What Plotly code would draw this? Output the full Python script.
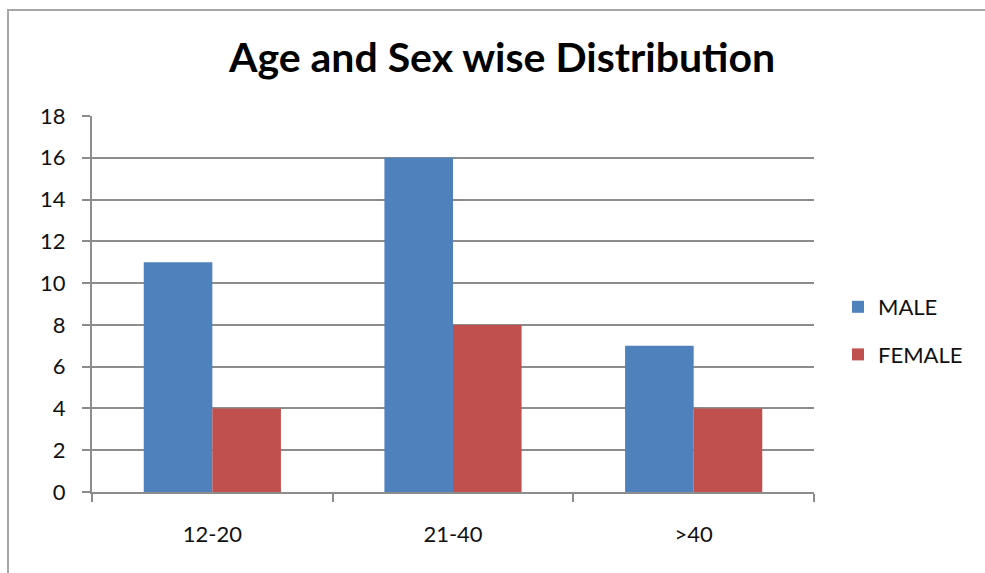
import plotly.graph_objects as go

# Age groups and counts per sex
age_groups = ["12-20", "21-40", ">40"]
male = [11, 16, 7]
female = [4, 8, 4]
y_ticks = list(range(0, 19, 2))

W, H = 985, 573
L, R, T, B = 92, 171, 116, 81
pw, ph = W - L - R, H - T - B

def px_x(p):
    return (p - L) / pw

def px_y(p):
    return (H - B - p) / ph

font = "Lato, 'Open Sans', sans-serif"
grid = "#8c8c8c"
text_col = "#111111"
tick_size = 22

fig = go.Figure()
fig.add_trace(go.Bar(name="MALE", x=age_groups, y=male, marker_color="#4F81BD",
                     marker_line_width=0, legendgroup="m"))
fig.add_trace(go.Bar(name="FEMALE", x=age_groups, y=female, marker_color="#C0504D",
                     marker_line_width=0, legendgroup="f"))

fig.update_layout(
    width=W, height=H,
    margin=dict(l=L, r=R, t=T, b=B),
    paper_bgcolor="white", plot_bgcolor="white",
    barmode="group", bargap=0.43, bargroupgap=0,
    font=dict(family=font, color=text_col, size=tick_size),
    title=dict(text="<b>Age and Sex wise Distribution</b>",
               font=dict(family=font, size=41, color="#000000"),
               x=px_x(502), xref="paper", xanchor="center",
               y=1 - 58 / H, yref="container", yanchor="middle"),
    legend=dict(x=px_x(838), y=px_y(286), xanchor="left", yanchor="top",
                font=dict(size=tick_size, family=font, color=text_col),
                tracegroupgap=16, bgcolor="rgba(0,0,0,0)"),
    showlegend=True,
)

fig.update_xaxes(
    showline=True, linecolor=grid, linewidth=2,
    ticks="outside", tickson="boundaries", ticklen=8, tickcolor=grid, tickwidth=2,
    ticklabelstandoff=22, showgrid=False,
    tickfont=dict(size=tick_size, family=font, color=text_col),
)
fig.update_yaxes(
    range=[0, 18], tickvals=y_ticks,
    showline=True, linecolor=grid, linewidth=2,
    ticks="outside", ticklen=8, tickcolor=grid, tickwidth=2,
    showgrid=True, gridcolor=grid, gridwidth=2, zeroline=False,
    ticklabelstandoff=12,
    tickfont=dict(size=tick_size, family=font, color=text_col),
)

# Chart-area frame (top and left edges visible)
fig.add_shape(type="rect", xref="paper", yref="paper",
              x0=px_x(8), x1=px_x(W + 20), y0=px_y(H + 20), y1=px_y(10),
              line=dict(color="#a6a6a6", width=2), fillcolor="rgba(0,0,0,0)", layer="below")

fig.write_html("out.html")
